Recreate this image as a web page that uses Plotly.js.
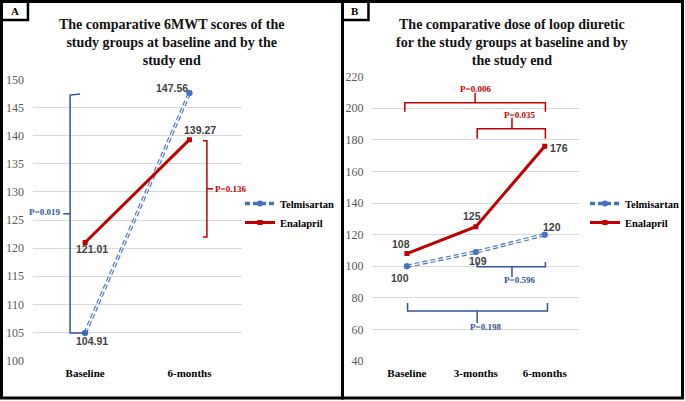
<!DOCTYPE html>
<html>
<head>
<meta charset="utf-8">
<script src="https://cdn.plot.ly/plotly-3.0.1.min.js"></script>
<style>html,body{margin:0;padding:0;background:#fff;}#chart{width:685px;height:401px;}</style>
</head>
<body>
<div id="chart"></div>
<script>
// ---- Data ----
const catsA = ["Baseline", "6-months"];
const telmiA = [104.91, 147.56];
const enalA = [121.01, 139.27];

const catsB = ["Baseline", "3-months", "6-months"];
const telmiB = [100, 109, 120];
const enalB = [108, 125, 176];

const ticksA = [100, 105, 110, 115, 120, 125, 130, 135, 140, 145, 150];
const ticksB = [40, 60, 80, 100, 120, 140, 160, 180, 200, 220];

const seriesNames = ["Telmisartan", "Enalapril"];
const titleA = "The comparative 6MWT scores of the<br>study groups at baseline and by the<br>study end";
const titleB = "The comparative dose of loop diuretic<br>for the study groups at baseline and by<br>the study end";

// ---- Styles ----
const W = 685, H = 401;
const px = v => v / W;
const py = v => 1 - v / H;
const BLUE = "#4472C4", RED = "#C00000", PBLUE = "#2F5597";
const serif = "Liberation Serif, Times New Roman, serif";
const sans = "Liberation Sans, Arial, sans-serif";
const DASH = "5px,3px";

function telmiTraces(x, y, xa, ya, leg, show) {
  return [
    {x: x, y: y, xaxis: xa, yaxis: ya, type: "scatter", mode: "lines+markers", name: seriesNames[0],
     legend: leg, showlegend: show,
     line: {color: BLUE, width: 3.5, dash: DASH}, marker: {color: BLUE, size: 6, symbol: "circle"}},
    {x: x, y: y, xaxis: xa, yaxis: ya, type: "scatter", mode: "lines", showlegend: false, hoverinfo: "skip",
     line: {color: "#ffffff", width: 1.2, dash: DASH}},
    {x: x, y: y, xaxis: xa, yaxis: ya, type: "scatter", mode: "markers", showlegend: false, hoverinfo: "skip",
     marker: {color: BLUE, size: 6, symbol: "circle"}}
  ];
}
function enalTrace(x, y, xa, ya, leg, show) {
  return {x: x, y: y, xaxis: xa, yaxis: ya, type: "scatter", mode: "lines+markers", name: seriesNames[1],
    legend: leg, showlegend: show,
    line: {color: RED, width: 3}, marker: {color: RED, size: 5, symbol: "square"}};
}

const traces = [
  ...telmiTraces(catsA, telmiA, "x", "y", "legend", true),
  enalTrace(catsA, enalA, "x", "y", "legend", true),
  ...telmiTraces(catsB, telmiB, "x2", "y2", "legend2", true),
  enalTrace(catsB, enalB, "x2", "y2", "legend2", true)
];

// ---- Annotations ----
const annotations = [];
function addLabel(xa, ya, cat, val, dx, dy) {
  annotations.push({xref: xa, yref: ya, x: cat, y: val, text: String(val), showarrow: false,
    xanchor: "center", yanchor: "middle",
    xshift: dx, yshift: -dy, font: {family: sans, size: 10.5, color: "#404040", weight: "bold"}});
}
// Panel A labels
const offsA_t = [[7, 8], [-17, -5]];
const offsA_e = [[7, 7], [11, -10]];
telmiA.forEach((v, i) => addLabel("x", "y", catsA[i], v.toFixed(2), offsA_t[i][0], offsA_t[i][1]));
enalA.forEach((v, i) => addLabel("x", "y", catsA[i], v.toFixed(2), offsA_e[i][0], offsA_e[i][1]));
// Panel B labels
const offsB_t = [[-7, 12], [2, 9], [7, -8]];
const offsB_e = [[-6, -10], [-4, -11], [14, 2]];
telmiB.forEach((v, i) => addLabel("x2", "y2", catsB[i], v, offsB_t[i][0], offsB_t[i][1]));
enalB.forEach((v, i) => addLabel("x2", "y2", catsB[i], v, offsB_e[i][0], offsB_e[i][1]));

// titles
annotations.push({xref: "paper", yref: "paper", x: px(172), y: py(15), xanchor: "center", yanchor: "top",
  text: "<b>" + titleA + "</b>", showarrow: false, align: "center", font: {family: serif, size: 14, color: "#111"}});
annotations.push({xref: "paper", yref: "paper", x: px(513), y: py(15), xanchor: "center", yanchor: "top",
  text: "<b>" + titleB + "</b>", showarrow: false, align: "center", font: {family: serif, size: 14, color: "#111"}});
// panel letters
annotations.push({xref: "paper", yref: "paper", x: px(15), y: py(11), xanchor: "center", yanchor: "middle",
  text: "<b>A</b>", showarrow: false, font: {family: serif, size: 11, color: "#000"}});
annotations.push({xref: "paper", yref: "paper", x: px(356), y: py(11), xanchor: "center", yanchor: "middle",
  text: "<b>B</b>", showarrow: false, font: {family: serif, size: 11, color: "#000"}});

// P-values
function pText(xa, ya, x, y, t, col, xanchor) {
  annotations.push({xref: xa, yref: ya, x: x, y: y, text: "<b>" + t + "</b>", showarrow: false,
    xanchor: xanchor || "center", yanchor: "middle", font: {family: serif, size: 9, color: col}});
}
pText("x", "y", -0.39, 126.5, "P=0.019", PBLUE);
pText("x", "y", 1.225, 130.55, "P=0.136", RED, "left");
pText("x2", "y2", 0.99, 212.4, "P=0.006", RED);
pText("x2", "y2", 1.63, 195.9, "P=0.035", RED);
pText("x2", "y2", 1.63, 91.3, "P=0.596", PBLUE);
pText("x2", "y2", 1.14, 61.5, "P=0.198", PBLUE);

// ---- Shapes ----
const shapes = [];
function pathShape(xa, ya, d, col) {
  shapes.push({type: "path", xref: xa, yref: ya, path: d, line: {color: col, width: 1.5}});
}
// Panel A blue brace
pathShape("x", "y", "M -0.05,147.4 L -0.144,147.2 L -0.144,104.91 L 0,104.91", PBLUE);
pathShape("x", "y", "M -0.144,126.1 L -0.21,126.1", PBLUE);
// Panel A red bracket
pathShape("x", "y", "M 1.129,139.1 L 1.167,139.1 L 1.167,122.0 L 1.129,122.0", RED);
pathShape("x", "y", "M 1.167,130.55 L 1.225,130.55", RED);
// Panel B red brackets
pathShape("x2", "y2", "M -0.03,197.8 L -0.03,203.5 L 2.01,203.5 L 2.01,197.8", RED);
pathShape("x2", "y2", "M 0.99,203.5 L 0.99,209.8", RED);
pathShape("x2", "y2", "M 1.02,180.7 L 1.02,187.1 L 2.01,187.1 L 2.01,180.7", RED);
pathShape("x2", "y2", "M 1.525,187.1 L 1.525,194.0", RED);
// Panel B blue brackets
pathShape("x2", "y2", "M 1.02,102.7 L 1.02,99.6 L 2.01,99.6 L 2.01,102.7", PBLUE);
pathShape("x2", "y2", "M 1.525,99.6 L 1.525,93.2", PBLUE);
pathShape("x2", "y2", "M 0.01,76.8 L 0.01,71.7 L 2.04,71.7 L 2.04,76.8", PBLUE);
pathShape("x2", "y2", "M 1.02,71.7 L 1.02,64.1", PBLUE);

// frames
function rect(x0, y0, x1, y1, w) {
  shapes.push({type: "rect", xref: "paper", yref: "paper", x0: px(x0), x1: px(x1), y0: py(y0), y1: py(y1),
    line: {color: "#000", width: w}, fillcolor: "rgba(0,0,0,0)"});
}
rect(1.5, 1.5, 343, 398, 3);
rect(343, 1.5, 683.5, 398, 3);
rect(1.5, 1.5, 28, 20, 2.5);
rect(343, 1.5, 369, 20, 2.5);

// ---- Layout ----
const yaxisBase = {showgrid: true, gridcolor: "#d9d9d9", gridwidth: 1, zeroline: false, showline: false,
  ticks: "", ticklabelstandoff: 8, tickfont: {family: serif, size: 12, color: "#595959"}};
const xaxisBase = {type: "category", showgrid: false, zeroline: false, showline: false, ticks: "",
  ticklabelstandoff: 4, tickfont: {family: serif, size: 11, color: "#000", weight: "bold"}};

const layout = {
  width: W, height: H,
  margin: {l: 0, r: 0, t: 0, b: 0},
  paper_bgcolor: "#fff", plot_bgcolor: "#fff",
  showlegend: true,
  xaxis: Object.assign({}, xaxisBase, {domain: [px(33), px(242)], range: [-0.5, 1.5], categoryarray: catsA, anchor: "y"}),
  yaxis: Object.assign({}, yaxisBase, {domain: [py(360.7), py(79.3)], range: [100, 150], tickvals: ticksA, anchor: "x"}),
  xaxis2: Object.assign({}, xaxisBase, {domain: [px(373), px(580)], range: [-0.5, 2.5], categoryarray: catsB, anchor: "y2"}),
  yaxis2: Object.assign({}, yaxisBase, {domain: [py(361), py(76.7)], range: [40, 220], tickvals: ticksB, anchor: "x2"}),
  legend: {x: px(240), y: py(189), xanchor: "left", yanchor: "top", bgcolor: "rgba(0,0,0,0)",
    font: {family: serif, size: 10.5, color: "#000", weight: "bold"}, itemwidth: 30, tracegroupgap: 0},
  legend2: {x: px(586), y: py(189), xanchor: "left", yanchor: "top", bgcolor: "rgba(0,0,0,0)",
    font: {family: serif, size: 10.5, color: "#000", weight: "bold"}, itemwidth: 30, tracegroupgap: 0},
  annotations: annotations,
  shapes: shapes
};

Plotly.newPlot("chart", traces, layout, {staticPlot: true, displayModeBar: false});
</script>
</body>
</html>
